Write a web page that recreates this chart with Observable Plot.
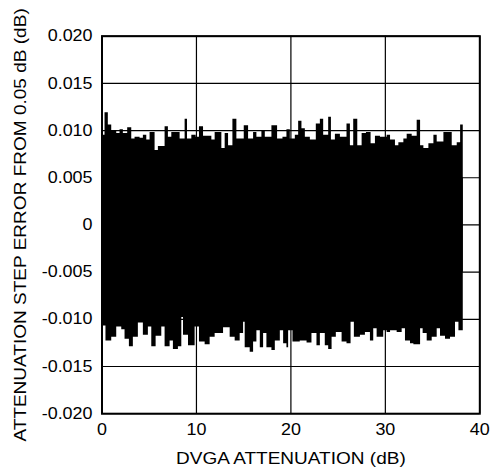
<!DOCTYPE html>
<html>
<head>
<meta charset="utf-8">
<script src="https://cdn.jsdelivr.net/npm/d3@7"></script>
<script src="https://cdn.jsdelivr.net/npm/@observablehq/plot@0.6"></script>
<style>
  html, body { margin: 0; padding: 0; background: #fff; }
  #chart { width: 491px; height: 470px; }
</style>
</head>
<body>
<div id="chart"></div>
<script>
// Axis ticks and labels
const xTicks = [0, 10, 20, 30, 40];
const yTicks = [-0.02, -0.015, -0.01, -0.005, 0, 0.005, 0.01, 0.015, 0.02];
const yTickLabels = ["-0.020", "-0.015", "-0.010", "-0.005", "0", "0.005", "0.010", "0.015", "0.020"];
const xLabel = "DVGA ATTENUATION (dB)";
const yLabel = "ATTENUATION STEP ERROR FROM 0.05 dB (dB)";

// Last attenuation value of the sweep (dB)
const sweepEnd = 38.25;

// Upper envelope of the step error trace: attenuation (dB) where a level starts, and its value (dB)
const upperX = [0, 0.32, 0.67, 1.03, 1.56, 1.91, 2.26, 2.72, 3.15, 3.50, 4.03, 4.38, 4.74, 5.09, 5.62, 5.97,
  6.68, 7.03, 7.39, 8.27, 8.80, 9.05, 9.51, 9.97, 10.32, 10.75, 11.63, 11.98, 12.69, 13.04, 13.40, 13.86,
  14.28, 15.06, 15.52, 16.05, 16.40, 16.93, 17.29, 17.99, 18.59, 19.16, 19.58, 19.94, 20.47, 20.82, 21.17,
  21.53, 22.06, 22.69, 23.12, 23.47, 24.00, 24.29, 24.71, 25.24, 25.94, 26.30, 26.65, 27.08, 27.54, 28.00,
  28.49, 28.95, 29.48, 30.19, 30.55, 31.07, 31.43, 31.96, 32.31, 32.84, 33.37, 33.73, 34.08, 34.61, 35.14,
  35.49, 36.20, 36.73, 37.08, 37.61, 37.97];
const upperV = [0.0095, 0.0119, 0.0106, 0.0100, 0.0097, 0.0101, 0.0097, 0.0103, 0.0091, 0.0093, 0.0092, 0.0095,
  0.0090, 0.0098, 0.0079, 0.0083, 0.0104, 0.0093, 0.0098, 0.0091, 0.0112, 0.0091, 0.0095, 0.0093, 0.0104,
  0.0094, 0.0090, 0.0098, 0.0081, 0.0097, 0.0084, 0.0112, 0.0091, 0.0105, 0.0091, 0.0098, 0.0093, 0.0099,
  0.0093, 0.0105, 0.0091, 0.0093, 0.0101, 0.0091, 0.0095, 0.0110, 0.0102, 0.0093, 0.0090, 0.0107, 0.0112,
  0.0095, 0.0114, 0.0090, 0.0096, 0.0093, 0.0107, 0.0084, 0.0112, 0.0084, 0.0097, 0.0098, 0.0086, 0.0094,
  0.0093, 0.0095, 0.0090, 0.0084, 0.0087, 0.0091, 0.0096, 0.0094, 0.0111, 0.0084, 0.0081, 0.0086, 0.0095,
  0.0088, 0.0098, 0.0098, 0.0084, 0.0087, 0.0106];

// Lower envelope of the step error trace
const lowerX = [0, 0.42, 1.03, 1.56, 2.09, 2.44, 2.90, 3.32, 3.85, 4.38, 4.91, 5.27, 5.73, 6.33, 6.68, 7.21,
  7.56, 8.09, 8.45, 8.63, 9.16, 9.86, 10.32, 10.92, 11.45, 11.98, 12.87, 13.57, 14.10, 14.63, 14.99, 15.16,
  15.69, 16.05, 16.40, 16.76, 17.11, 17.46, 17.99, 18.35, 18.88, 19.23, 19.58, 19.76, 20.22, 20.99, 21.71,
  22.23, 22.76, 23.12, 23.64, 24.00, 24.36, 24.81, 25.42, 25.94, 26.37, 26.72, 27.36, 27.89, 28.42, 28.77,
  29.13, 29.83, 30.19, 30.55, 31.25, 31.78, 32.13, 32.66, 33.02, 33.73, 34.00, 34.43, 34.96, 35.49, 35.84,
  36.37, 36.90, 37.43, 37.79];
const lowerV = [-0.0107, -0.0123, -0.0119, -0.0108, -0.0111, -0.0121, -0.0129, -0.0119, -0.0104, -0.0117,
  -0.0108, -0.0129, -0.0118, -0.0108, -0.0129, -0.0123, -0.0132, -0.0129, -0.0098, -0.0117, -0.0128, -0.0108,
  -0.0124, -0.0127, -0.0119, -0.0115, -0.0109, -0.0119, -0.0123, -0.0115, -0.0103, -0.0130, -0.0135, -0.0124,
  -0.0112, -0.0130, -0.0115, -0.0130, -0.0133, -0.0123, -0.0112, -0.0126, -0.0130, -0.0112, -0.0124, -0.0123,
  -0.0125, -0.0115, -0.0128, -0.0115, -0.0128, -0.0132, -0.0119, -0.0114, -0.0124, -0.0126, -0.0103, -0.0119,
  -0.0117, -0.0114, -0.0123, -0.0110, -0.0119, -0.0112, -0.0114, -0.0112, -0.0114, -0.0110, -0.0123, -0.0126,
  -0.0127, -0.0110, -0.0115, -0.0123, -0.0119, -0.0110, -0.0118, -0.0121, -0.0119, -0.0103, -0.0112];

function toTable(xs, vs) {
  const t = xs.map((x, i) => ({x, v: vs[i]}));
  t.push({x: sweepEnd, v: vs[vs.length - 1]});
  return t;
}
const upper = toTable(upperX, upperV);
const lower = toTable(lowerX, lowerV);

const font = "'Liberation Sans', Arial, Helvetica, sans-serif";

const svg = Plot.plot({
  width: 491,
  height: 470,
  marginLeft: 101.5,
  marginRight: 11.7,
  marginTop: 35.7,
  marginBottom: 56.8,
  style: {fontFamily: font, fontSize: "16px", color: "black", background: "white", overflow: "visible"},
  x: {domain: [0, 40]},
  y: {domain: [-0.02, 0.02]},
  marks: [
    Plot.gridX(xTicks, {stroke: "black", strokeOpacity: 1, strokeWidth: 1.2}),
    Plot.gridY(yTicks, {stroke: "black", strokeOpacity: 1, strokeWidth: 1.2}),
    Plot.areaY(upper, {x: "x", y1: -0.005, y2: "v", curve: "step-after", fill: "black"}),
    Plot.areaY(lower, {x: "x", y1: "v", y2: 0.005, curve: "step-after", fill: "black"}),
    Plot.frame({stroke: "black", strokeWidth: 2}),
    Plot.axisX({ticks: xTicks, tickSize: 0, tickPadding: 10, label: null, fontSize: 16}),
    Plot.axisY({ticks: yTicks, tickSize: 0, tickPadding: 9.5, label: null, fontSize: 16,
      tickFormat: d => yTickLabels[yTicks.findIndex(t => Math.abs(t - d) < 1e-9)]}),
    Plot.text([xLabel], {text: d => d, frameAnchor: "bottom", dy: 45, textAnchor: "middle", lineAnchor: "middle", fontSize: 17}),
    Plot.text([yLabel], {text: d => d, frameAnchor: "left", dx: -81.5, rotate: -90, textAnchor: "middle", lineAnchor: "middle", fontSize: 17})
  ]
});
document.getElementById("chart").appendChild(svg);

// The reference lettering is slightly wider than Arial: stretch each text along its baseline
svg.querySelectorAll("text").forEach(t => {
  const tr = t.getAttribute("transform") || "";
  t.setAttribute("transform", (tr + " scale(1.12,1)").trim());
});
</script>
</body>
</html>
